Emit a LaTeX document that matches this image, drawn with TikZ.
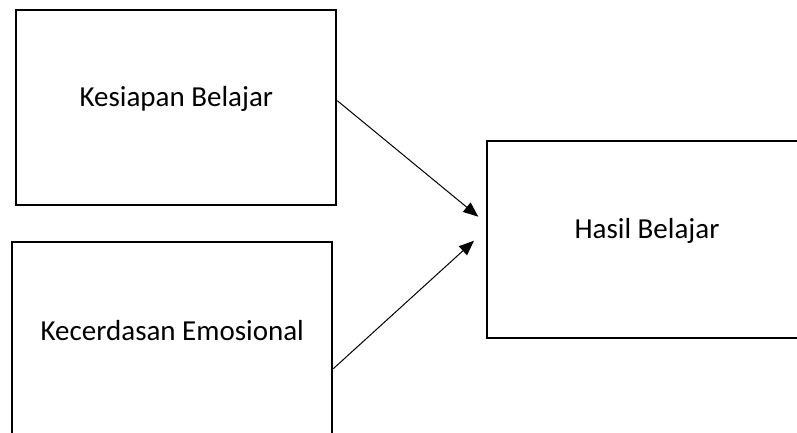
\documentclass[tikz,border=0pt]{standalone}
\usepackage{fontspec}
\setmainfont{Carlito}
\usepackage{tikz}
\usetikzlibrary{arrows.meta}
\usetikzlibrary{positioning}

\begin{document}
\begin{tikzpicture}[x=0.5pt, y=-0.5pt,
                font=\fontsize{14.5pt}{17pt}\selectfont,
                varblock/.style={rectangle, draw, line width=1pt, fill=white, minimum width=160pt, minimum height=97.5pt},
                varlabel/.style={yshift=4.5pt},
                arrow/.style={draw, line width=0.5pt, -{Triangle[length=7.5pt,width=6pt]}}
            ]
            \useasboundingbox (0,0) rectangle (797,433);
            \clip (0,0) rectangle (797,433);
            \node[varblock, label={[varlabel]center:Kesiapan Belajar}] (kesiapan) at (176.3,107.5) {};
            \node[varblock, below=17.5pt of kesiapan, xshift=-2pt, label={[varlabel]center:Kecerdasan Emosional}] (emosi) {};
            \node[varblock, minimum height=98.5pt, label={[varlabel]center:Hasil Belajar}] (hasil) at (647,239.5) {};
            \path[arrow] ([yshift=3.4pt]kesiapan.east) -- ([xshift=-3.85pt,yshift=11.4pt]hasil.west);
            \path[arrow] ([yshift=-14.6pt]emosi.east) -- ([xshift=-6pt,yshift=-0.6pt]hasil.west);
        \end{tikzpicture}
\end{document}
